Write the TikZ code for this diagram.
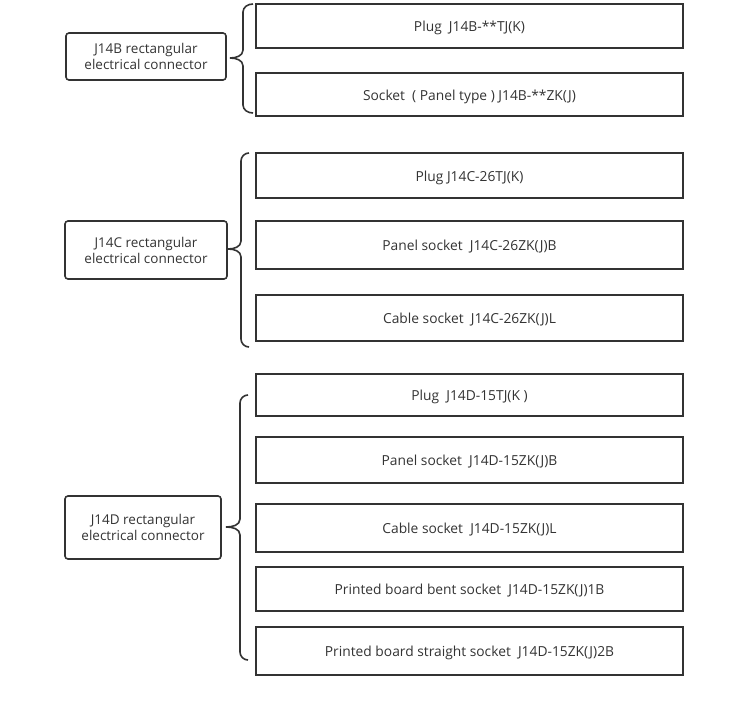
\documentclass[tikz,border=0pt]{standalone}
\usepackage{fontspec}
\setmainfont{Open Sans}
\definecolor{ink}{HTML}{333333}
\begin{document}
\begin{tikzpicture}[x=1pt,y=-1pt,
  item/.style={draw=ink,line width=1.6pt,minimum width=427pt,inner sep=0pt,text height=11pt,text depth=0pt,text=ink,font=\fontsize{13.8}{16}\selectfont},
  group/.style={draw=ink,line width=1.6pt,rounded corners=3pt,inner sep=0pt,align=center,text=ink,font=\fontsize{13.5}{16}\selectfont},
  brace/.style={draw=ink,line width=1.6pt}]
\useasboundingbox (0,0) rectangle (750,701);
% J14B
\node[group,minimum width=160pt,minimum height=47pt] (lb) at (146,56.5) {J14B rectangular\\electrical connector};
\node[item,minimum height=44pt] (b1) at (469.5,26) {Plug\ \ J14B-**TJ(K)};
\node[item,minimum height=43pt] (b2) at (469.5,94.5) {Socket\ \ ( Panel type ) J14B-**ZK(J)};
% J14C
\node[group,minimum width=162pt,minimum height=58pt] (lc) at (146,250) {J14C rectangular\\electrical connector};
\node[item,minimum height=45pt] (c1) at (469.5,175.5) {Plug J14C-26TJ(K)};
\node[item,minimum height=48pt] (c2) at (469.5,245) {Panel socket\ \ J14C-26ZK(J)B};
\node[item,minimum height=46pt] (c3) at (469.5,318) {Cable socket\ \ J14C-26ZK(J)L};
% J14D
\node[group,minimum width=156pt,minimum height=63pt] (ld) at (143,527.5) {J14D rectangular\\electrical connector};
\node[item,minimum height=42pt] (d1) at (469.5,395) {Plug\ \ J14D-15TJ(K )};
\node[item,minimum height=46pt] (d2) at (469.5,460) {Panel socket\ \ J14D-15ZK(J)B};
\node[item,minimum height=48pt] (d3) at (469.5,528) {Cable socket\ \ J14D-15ZK(J)L};
\node[item,minimum height=44pt] (d4) at (469.5,589) {Printed board bent socket\ \ J14D-15ZK(J)1B};
\node[item,minimum height=48pt] (d5) at (469.5,651) {Printed board straight socket\ \ J14D-15ZK(J)2B};
% braces
\coordinate (bt) at (253,4);
\coordinate (bm) at (230,58);
\coordinate (bb) at (253,113);
\draw[brace] (bt) to[out=180,in=90] (243,12) -- (243,50) to[out=-90,in=0] (bm)
  to[out=0,in=90] (243,66) -- (243,105) to[out=-90,in=180] (bb);
\coordinate (ct) at (249,153);
\coordinate (cm) at (228,249);
\coordinate (cb) at (249,347);
\draw[brace] (ct) to[out=180,in=90] (241,161) -- (241,241) to[out=-90,in=0] (cm)
  to[out=0,in=90] (241,257) -- (241,339) to[out=-90,in=180] (cb);
\coordinate (dt) at (248,395);
\coordinate (dm) at (226,527);
\coordinate (db) at (248,660);
\draw[brace] (dt) to[out=180,in=90] (240,403) -- (240,519) to[out=-90,in=0] (dm)
  to[out=0,in=90] (240,535) -- (240,652) to[out=-90,in=180] (db);
\end{tikzpicture}
\end{document}
